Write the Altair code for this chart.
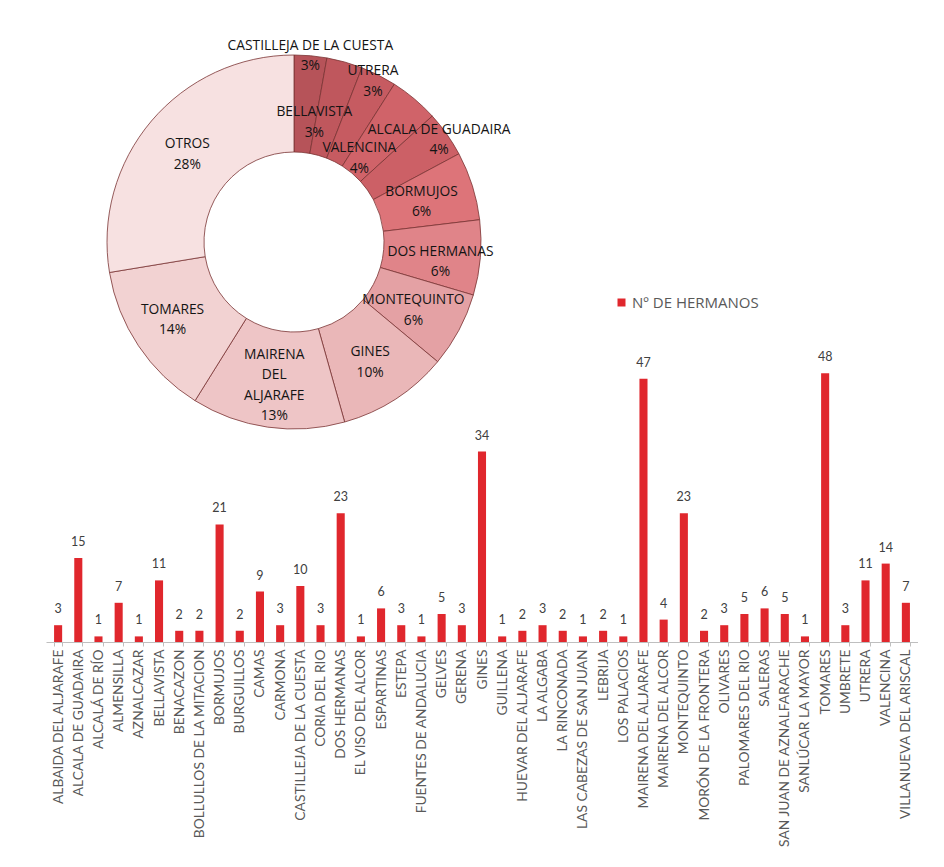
import altair as alt
import pandas as pd

# ---------------- data ----------------
bar_names = [
    "ALBAIDA DEL ALJARAFE", "ALCALA DE GUADAIRA", "ALCALÁ DE RÍO", "ALMENSILLA",
    "AZNALCAZAR", "BELLAVISTA", "BENACAZON", "BOLLULLOS DE LA MITACION", "BORMUJOS",
    "BURGUILLOS", "CAMAS", "CARMONA", "CASTILLEJA DE LA CUESTA", "CORIA DEL RIO",
    "DOS HERMANAS", "EL VISO DEL ALCOR", "ESPARTINAS", "ESTEPA", "FUENTES DE ANDALUCIA",
    "GELVES", "GERENA", "GINES", "GUILLENA", "HUEVAR DEL ALJARAFE", "LA ALGABA",
    "LA RINCONADA", "LAS CABEZAS DE SAN JUAN", "LEBRIJA", "LOS PALACIOS",
    "MAIRENA DEL ALJARAFE", "MAIRENA DEL ALCOR", "MONTEQUINTO", "MORÓN DE LA FRONTERA",
    "OLIVARES", "PALOMARES DEL RIO", "SALERAS", "SAN JUAN DE AZNALFARACHE",
    "SANLÚCAR LA MAYOR", "TOMARES", "UMBRETE", "UTRERA", "VALENCINA",
    "VILLANUEVA DEL ARISCAL",
]
bar_values = [3, 15, 1, 7, 1, 11, 2, 2, 21, 2, 9, 3, 10, 3, 23, 1, 6, 3, 1, 5, 3, 34,
              1, 2, 3, 2, 1, 2, 1, 47, 4, 23, 2, 3, 5, 6, 5, 1, 48, 3, 11, 14, 7]
series_name = "Nº DE HERMANOS"

donut_names = ["CASTILLEJA DE LA CUESTA", "UTRERA", "BELLAVISTA", "ALCALA DE GUADAIRA",
               "VALENCINA", "BORMUJOS", "DOS HERMANAS", "MONTEQUINTO", "GINES",
               "MAIRENA DEL ALJARAFE", "TOMARES", "OTROS"]
donut_values = [10, 11, 11, 15, 14, 21, 23, 23, 34, 47, 48, 98]

# ---------------- styles ----------------
donut_colors = ["#b65359", "#bf575d", "#c65b61", "#d06369", "#cc6066", "#dd7479",
                "#e08489", "#e4a1a4", "#eab7b8", "#eec5c6", "#f2d2d2", "#f7e1e1"]
bar_color = "#e0272d"
FONT = "Lato"
LFONT = "Open Sans"
CX, CY = 248, 234  # donut centre inside the plot area
total = sum(donut_values)

bars_df = pd.DataFrame({"municipio": bar_names, "hermanos": bar_values, "serie": series_name})
donut_df = pd.DataFrame({"nombre": donut_names, "hermanos": donut_values,
                         "orden": list(range(len(donut_names)))})

# ---------------- bars ----------------
xenc = alt.X("municipio:N", sort=bar_names,
             scale=alt.Scale(paddingInner=0.6, paddingOuter=0.4),
             axis=alt.Axis(title=None, labelAngle=-90, labelFontSize=13.8, labelFont=FONT,
                           labelColor="#595959", labelLimit=300, labelPadding=3,
                           labelOverlap=False, domainColor="#bfbfbf", tickColor="#bfbfbf",
                           tickSize=4, tickBand="extent"))
yenc = alt.Y("hermanos:Q", scale=alt.Scale(domain=[0, 113.2], nice=False, zero=True), axis=None)

bars = alt.Chart(bars_df).mark_bar().encode(
    x=xenc, y=yenc,
    color=alt.Color("serie:N", scale=alt.Scale(domain=[series_name], range=[bar_color]),
                    legend=alt.Legend(title=None, orient="none", legendX=568, legendY=287,
                                      symbolType="square", symbolSize=64, labelFont=LFONT,
                                      labelFontSize=15, labelColor="#595959", padding=0,
                                      labelOffset=3, symbolStrokeWidth=0)),
)
bar_text = alt.Chart(bars_df).mark_text(dy=-12, baseline="alphabetic", fontSize=12.5,
                                        font=FONT, color="#404040").encode(
    x=alt.X("municipio:N", sort=bar_names), y="hermanos:Q", text="hermanos:Q")

# ---------------- donut ----------------
stack_sort = [alt.SortField("orden", order="ascending")]
arc = alt.Chart(donut_df).transform_stack(
    stack="hermanos", as_=["t0", "t1"], groupby=[], sort=stack_sort
).mark_arc(innerRadius=90, outerRadius=187, stroke="#7a3434", strokeWidth=0.8).encode(
    x=alt.value(CX), y=alt.value(CY),
    theta=alt.Theta("t0:Q", stack=None, scale=alt.Scale(domain=[0, total])),
    theta2="t1:Q",
    color=alt.Color("nombre:N", sort=donut_names,
                    scale=alt.Scale(domain=donut_names, range=donut_colors), legend=None),
)

label_base = alt.Chart(donut_df).transform_joinaggregate(
    total="sum(hermanos)"
).transform_stack(
    stack="hermanos", as_=["t0", "t1"], groupby=[], sort=stack_sort
).transform_calculate(
    mid="(datum.t0 + datum.t1) / 2",
    etiqueta=("(datum.nombre == 'MAIRENA DEL ALJARAFE' ? "
              "replace(datum.nombre, regexp(' ', 'g'), '|') : datum.nombre)"
              " + '|' + format(datum.hermanos / datum.total, '.0%')"),
)

def label_layer(name, dx=0, dy=0):
    return label_base.transform_filter(
        alt.FieldEqualPredicate(field="nombre", equal=name)
    ).mark_text(
        radius=140, dx=dx, dy=dy, lineBreak="|", fontSize=13.8, font=LFONT,
        color="#141414", lineHeight=20.5, align="center", baseline="middle"
    ).encode(
        x=alt.value(CX), y=alt.value(CY),
        theta=alt.Theta("mid:Q", stack=None, scale=alt.Scale(domain=[0, total])),
        text="etiqueta:N",
    )

label_offsets = {
    "CASTILLEJA DE LA CUESTA": (4, -57),
    "UTRERA": (41, -36),
    "BELLAVISTA": (-43, -5),
    "ALCALA DE GUADAIRA": (55, -5),
    "VALENCINA": (-49, -13),
    "BORMUJOS": (-6, -8),
    "DOS HERMANAS": (7, -2),
    "MONTEQUINTO": (-4, -8),
    "GINES": (0, -7),
    "MAIRENA DEL ALJARAFE": (0, -26),
    "TOMARES": (-5, -10),
    "OTROS": (0, -7),
}
label_layers = [label_layer(k, dx, dy) for k, (dx, dy) in label_offsets.items()]

chart = alt.layer(arc, *label_layers, bars, bar_text).resolve_scale(
    color="independent"
).properties(
    width=872, height=634,
    padding={"left": 31, "top": 0, "right": 0, "bottom": 0},
    background="white",
).configure_view(stroke=None)

chart.save("out.html", embed_options={"renderer": "svg", "actions": False})
